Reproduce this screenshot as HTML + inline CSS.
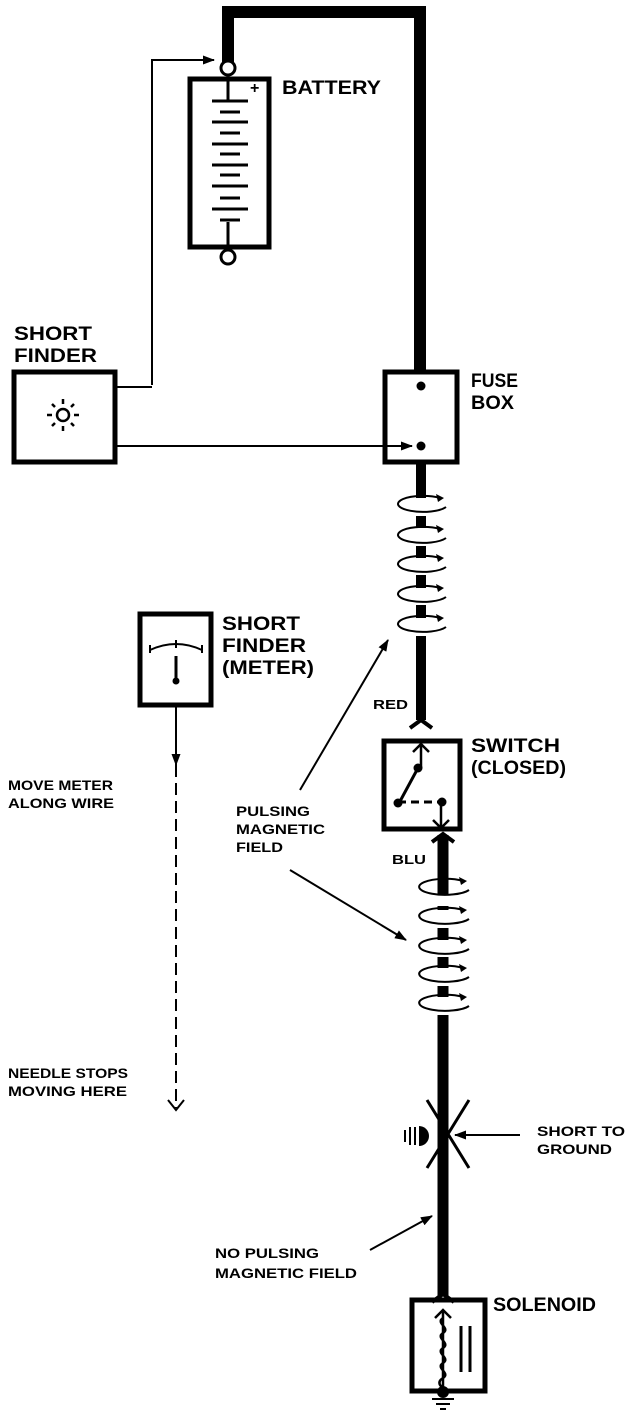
<!DOCTYPE html><html><head><style>body{margin:0;background:#fff}svg{display:block}text{font-family:"Liberation Sans",sans-serif;font-weight:bold;fill:#000}</style></head><body>
<svg width="640" height="1414" viewBox="0 0 640 1414" xmlns="http://www.w3.org/2000/svg">
<defs><marker id="a" markerWidth="12" markerHeight="9" refX="11" refY="4.5" orient="auto" markerUnits="userSpaceOnUse"><path d="M0,0L12,4.5L0,9z"/></marker></defs>
<g fill="none" stroke="#000">
<path d="M228,62V12H420V372" stroke-width="12"/>
<circle cx="228" cy="68" r="7" stroke-width="3" fill="#fff"/>
<circle cx="228" cy="257" r="7" stroke-width="3" fill="#fff"/>
<rect x="190" y="79" width="79" height="168" stroke-width="5"/>
<path d="M228,79V100M228,222V247" stroke-width="3"/>
<path d="M212,101h36M220,112h20M212,122h36M220,133h20M212,144h36M220,154h20M212,165h36M220,175h20M212,186h36M220,198h20M212,209h36M220,220h20" stroke-width="3"/>
<path d="M152,385V60H214" stroke-width="2" marker-end="url(#a)"/>
<path d="M116,387H152" stroke-width="2"/>
<rect x="14" y="372" width="101" height="90" stroke-width="5"/>
<path d="M116,446H412" stroke-width="2" marker-end="url(#a)"/>
<rect x="385" y="372" width="72" height="90" stroke-width="5"/>
<path d="M421,463V498M421,516V528M421,546V558M421,575V588M421,605V618M421,636V720" stroke-width="10"/>
<path d="M410,728l11,-8l11,8" stroke-width="4"/>
<rect x="384" y="741" width="76" height="88" stroke-width="5"/>
<path d="M443,835V894M443,906V910M443,928V940M443,957V968M443,986V997M443,1015V1296" stroke-width="11"/>
<path d="M432,842l11,-8l11,8M432,1302l11,-8l11,8" stroke-width="4"/>
<path d="M427,1100L469,1168M469,1100L427,1168" stroke-width="3"/>
<rect x="412" y="1300" width="73" height="91" stroke-width="5"/>
<rect x="140" y="614" width="71" height="91" stroke-width="5"/>
<path d="M176,706V765" stroke-width="2" marker-end="url(#a)"/>
<path d="M176,765V1108" stroke-width="2" stroke-dasharray="12,6" />
<path d="M168,1100l8,10l8,-10" stroke-width="2"/>
<path d="M150,650q26,-12 52,0" stroke-width="2"/>
<path d="M150,645l0,8M202,645l0,8M176,640v8" stroke-width="2"/>
<path d="M176,656V680" stroke-width="3"/>
<path d="M300,790L388,640" stroke-width="2" marker-end="url(#a)"/>
<path d="M290,870L406,940" stroke-width="2" marker-end="url(#a)"/>
<path d="M520,1135H455" stroke-width="2" marker-end="url(#a)"/>
<path d="M370,1250L432,1216" stroke-width="2" marker-end="url(#a)"/>
<path d="M398,805L418,768" stroke-width="3"/>
<path d="M398,802H440" stroke-width="3" stroke-dasharray="8,5"/>
<path d="M421,745V768M441,802V828M413,752l8,-8l8,8M433,820l8,8l8,-8" stroke-width="2.5"/>
<path d="M443,1310V1388c0,0 -8,-5 0,-10c8,-5 -8,-10 0,-15c8,-5 -8,-10 0,-15c8,-5 -8,-10 0,-15c8,-5 -8,-10 0,-15" stroke-width="2.5"/>
<path d="M435,1318l8,-8l8,8" stroke-width="2.5"/>
<path d="M461,1326V1372M470,1326V1372" stroke-width="3"/>
<path d="M432,1399h22M436,1404h14M440,1409h6" stroke-width="2"/>
<path d="M405,1130v12M410,1127v18M415,1127v18" stroke-width="2"/>
</g>
<g fill="#000">
<circle cx="421" cy="386" r="4.5"/><circle cx="421" cy="446" r="4.5"/>
<circle cx="176" cy="681" r="3.5"/>
<circle cx="398" cy="803" r="4.5"/><circle cx="418" cy="768" r="4.5"/><circle cx="442" cy="802" r="4.5"/>
<circle cx="443" cy="1392" r="6"/>
<path d="M419,1126a10,10 0 0,1 0,20z"/>
</g>
<g fill="none" stroke="#000" stroke-width="2">
<path d="M440,498A25,8 0 1,0 446,507"/><path d="M440,529A25,8 0 1,0 446,538"/><path d="M440,558A25,8 0 1,0 446,567"/><path d="M440,588A25,8 0 1,0 446,597"/><path d="M440,618A25,8 0 1,0 446,627"/>
<path d="M463,881A26,8 0 1,0 469,890"/><path d="M463,910A26,8 0 1,0 469,919"/><path d="M463,940A26,8 0 1,0 469,949"/><path d="M463,968A26,8 0 1,0 469,977"/><path d="M463,997A26,8 0 1,0 469,1006"/>
<circle cx="63" cy="415" r="6" stroke-width="2.5"/>
<path d="M63,404v-5M63,426v5M52,415h-5M74,415h5M55,407l-3,-3M71,407l3,-3M55,423l-3,3M71,423l3,3" stroke-width="2.5"/>
</g>
<g fill="#000">
<path d="M436,494l8,4l-6,4z"/><path d="M436,525l8,4l-6,4z"/><path d="M436,554l8,4l-6,4z"/><path d="M436,584l8,4l-6,4z"/><path d="M436,614l8,4l-6,4z"/>
<path d="M459,877l8,4l-6,4z"/><path d="M459,906l8,4l-6,4z"/><path d="M459,936l8,4l-6,4z"/><path d="M459,964l8,4l-6,4z"/><path d="M459,993l8,4l-6,4z"/>
</g>
<text x="282" y="94" font-size="19" textLength="99" lengthAdjust="spacingAndGlyphs">BATTERY</text>
<text x="250" y="93" font-size="16">+</text>
<text x="14" y="340" font-size="19" textLength="78" lengthAdjust="spacingAndGlyphs">SHORT</text><text x="14" y="362" font-size="19" textLength="83" lengthAdjust="spacingAndGlyphs">FINDER</text>
<text x="471" y="387" font-size="19" textLength="47" lengthAdjust="spacingAndGlyphs">FUSE</text><text x="471" y="409" font-size="19" textLength="43" lengthAdjust="spacingAndGlyphs">BOX</text>
<text x="222" y="630" font-size="19" textLength="78" lengthAdjust="spacingAndGlyphs">SHORT</text><text x="222" y="652" font-size="19" textLength="84" lengthAdjust="spacingAndGlyphs">FINDER</text><text x="222" y="674" font-size="19" textLength="92" lengthAdjust="spacingAndGlyphs">(METER)</text>
<text x="373" y="709" font-size="13" textLength="35" lengthAdjust="spacingAndGlyphs">RED</text>
<text x="471" y="752" font-size="19" textLength="89" lengthAdjust="spacingAndGlyphs">SWITCH</text><text x="471" y="774" font-size="19" textLength="95" lengthAdjust="spacingAndGlyphs">(CLOSED)</text>
<text x="8" y="790" font-size="14" textLength="105" lengthAdjust="spacingAndGlyphs">MOVE METER</text><text x="8" y="808" font-size="14" textLength="106" lengthAdjust="spacingAndGlyphs">ALONG WIRE</text>
<text x="236" y="816" font-size="14" textLength="74" lengthAdjust="spacingAndGlyphs">PULSING</text><text x="236" y="834" font-size="14" textLength="89" lengthAdjust="spacingAndGlyphs">MAGNETIC</text><text x="236" y="852" font-size="14" textLength="47" lengthAdjust="spacingAndGlyphs">FIELD</text>
<text x="392" y="864" font-size="13" textLength="34" lengthAdjust="spacingAndGlyphs">BLU</text>
<text x="8" y="1078" font-size="14" textLength="120" lengthAdjust="spacingAndGlyphs">NEEDLE STOPS</text><text x="8" y="1096" font-size="14" textLength="119" lengthAdjust="spacingAndGlyphs">MOVING HERE</text>
<text x="537" y="1136" font-size="14" textLength="88" lengthAdjust="spacingAndGlyphs">SHORT TO</text><text x="537" y="1154" font-size="14" textLength="75" lengthAdjust="spacingAndGlyphs">GROUND</text>
<text x="215" y="1258" font-size="14" textLength="104" lengthAdjust="spacingAndGlyphs">NO PULSING</text><text x="215" y="1278" font-size="14" textLength="142" lengthAdjust="spacingAndGlyphs">MAGNETIC FIELD</text>
<text x="493" y="1311" font-size="19" textLength="103" lengthAdjust="spacingAndGlyphs">SOLENOID</text>
</svg></body></html>
